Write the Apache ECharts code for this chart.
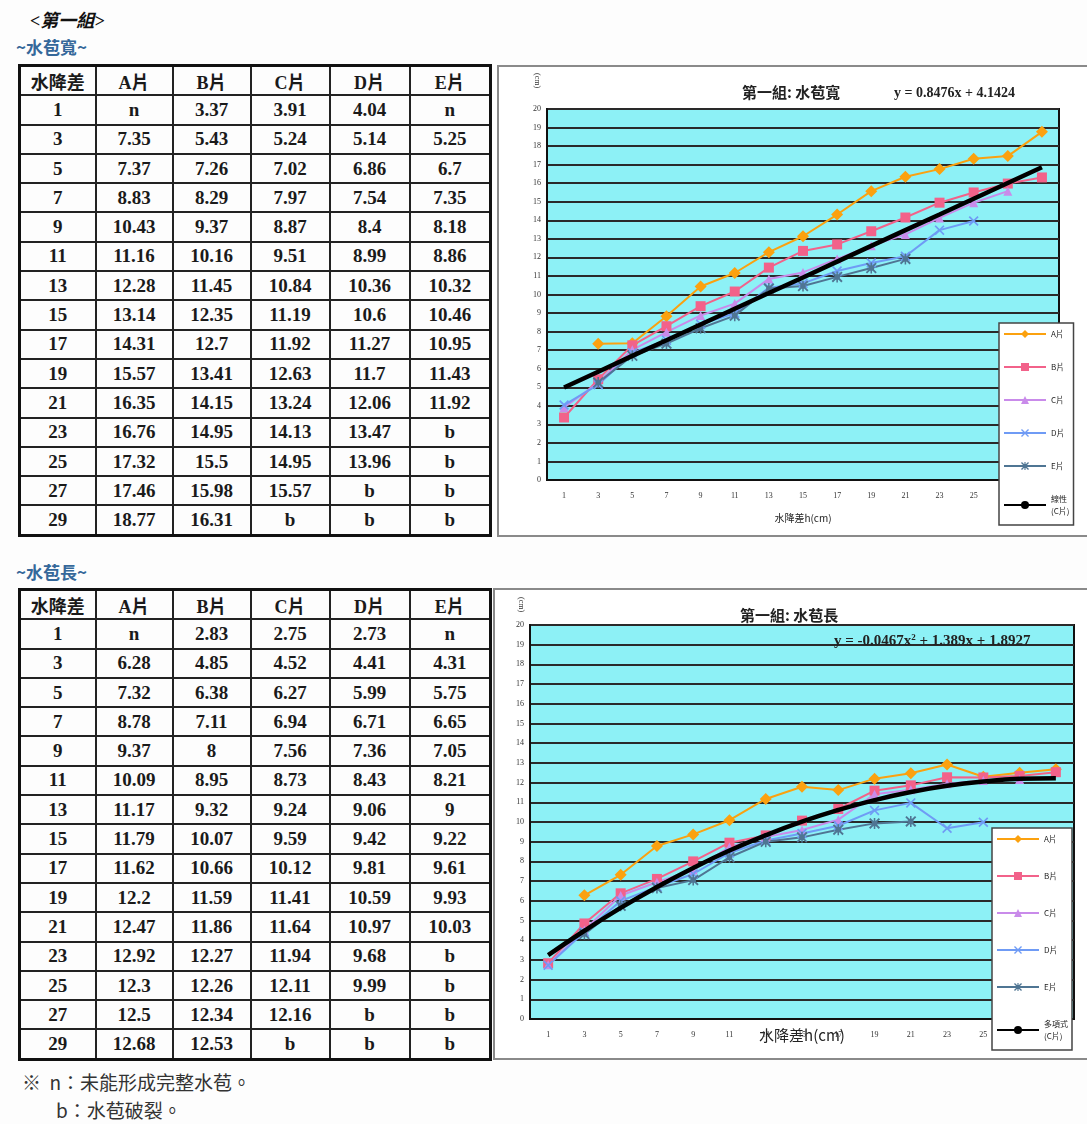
<!DOCTYPE html>
<html>
<head>
<meta charset="utf-8">
<script src="https://cdn.jsdelivr.net/npm/echarts@6/dist/echarts.min.js"></script>
<style>
  html, body { margin: 0; padding: 0; background: #fdfdfd; }
  body { width: 1087px; height: 1124px; position: relative; overflow: hidden; font-family: "Liberation Serif", "Noto Sans CJK TC", serif; }
  .group { position: absolute; left: 30px; top: 6px; font: italic bold 18px "Liberation Serif", "Noto Sans CJK TC"; color: #111; }
  .sub { position: absolute; left: 16px; font: bold 17px "Noto Sans CJK TC"; color: #35689a; }
  table.data { position: absolute; left: 18px; width: 471px; table-layout: fixed; border-collapse: collapse; border: 3px solid #111; }
  table.data td { border: 2px solid #222; height: 27.3px; padding: 0; text-align: center;
    font: bold 19px "Liberation Serif", "Noto Sans CJK TC"; color: #1a1a1a; }
  table.data tr.head td { font-size: 18px; }
  .chart { position: absolute; border: 2px solid #8a8a8a; background: #fff; box-sizing: border-box; }
  .note { position: absolute; font: 19px "Noto Sans CJK TC"; color: #333; }
</style>
</head>
<body>
<div class="group">&lt;第一組&gt;</div>
<div class="sub" style="top:34px">~水苞寬~</div>
<table class="data" id="tblWide" style="top:64px"></table>
<div class="chart" id="chartWide" style="left:497px;top:65px;width:592px;height:472px"></div>

<div class="sub" style="top:559px">~水苞長~</div>
<table class="data" id="tblLong" style="top:588px"></table>
<div class="chart" id="chartLong" style="left:493px;top:588px;width:596px;height:472px"></div>

<div class="note" style="left:22px;top:1068px">※&nbsp; n：未能形成完整水苞。</div>
<div class="note" style="left:56px;top:1096px">b：水苞破裂。</div>

<script>
// 水降差 (cm)
const drops = ['1','3','5','7','9','11','13','15','17','19','21','23','25','27','29'];
const pieces = ['A片','B片','C片','D片','E片'];

// 水苞寬
const wideA = ['n','7.35','7.37','8.83','10.43','11.16','12.28','13.14','14.31','15.57','16.35','16.76','17.32','17.46','18.77'];
const wideB = ['3.37','5.43','7.26','8.29','9.37','10.16','11.45','12.35','12.7','13.41','14.15','14.95','15.5','15.98','16.31'];
const wideC = ['3.91','5.24','7.02','7.97','8.87','9.51','10.84','11.19','11.92','12.63','13.24','14.13','14.95','15.57','b'];
const wideD = ['4.04','5.14','6.86','7.54','8.4','8.99','10.36','10.6','11.27','11.7','12.06','13.47','13.96','b','b'];
const wideE = ['n','5.25','6.7','7.35','8.18','8.86','10.32','10.46','10.95','11.43','11.92','b','b','b','b'];
// 線性趨勢線 (C片)
const wideTrend = [4.99,5.84,6.69,7.53,8.38,9.23,10.08,10.92,11.77,12.62,13.47,14.31,15.16,16.01,16.86];

// 水苞長
const longA = ['n','6.28','7.32','8.78','9.37','10.09','11.17','11.79','11.62','12.2','12.47','12.92','12.3','12.5','12.68'];
const longB = ['2.83','4.85','6.38','7.11','8','8.95','9.32','10.07','10.66','11.59','11.86','12.27','12.26','12.34','12.53'];
const longC = ['2.75','4.52','6.27','6.94','7.56','8.73','9.24','9.59','10.12','11.41','11.64','11.94','12.11','12.16','b'];
const longD = ['2.73','4.41','5.99','6.71','7.36','8.43','9.06','9.42','9.81','10.59','10.97','9.68','9.99','b','b'];
const longE = ['n','4.31','5.75','6.65','7.05','8.21','9','9.22','9.61','9.93','10.03','b','b','b','b'];
// 多項式趨勢線 (C片)
const longTrend = [3.24,4.48,5.64,6.70,7.67,8.55,9.33,10.02,10.61,11.11,11.52,11.84,12.06,12.19,12.22];

const yTicks = ['0','1','2','3','4','5','6','7','8','9','10','11','12','13','14','15','16','17','18','19','20'];

const colWidths = [76, 77, 78, 79, 80, 81];

function fillTable(id, cols){
  let html = '<colgroup>' + colWidths.map(w => `<col style="width:${w}px">`).join('') + '</colgroup>';
  html += '<tr class="head">';
  ['水降差'].concat(pieces).forEach(h => { html += `<td>${h}</td>`; });
  html += '</tr>';
  drops.forEach((d, r) => {
    html += `<tr><td>${d}</td>`;
    cols.forEach(c => { html += `<td>${c[r]}</td>`; });
    html += '</tr>';
  });
  document.getElementById(id).innerHTML = html;
}
fillTable('tblWide', [wideA, wideB, wideC, wideD, wideE]);
fillTable('tblLong', [longA, longB, longC, longD, longE]);

const toNum = arr => arr.map(v => isNaN(parseFloat(v)) ? null : parseFloat(v));

const Colors = {
  A: '#FBA10F', B: '#F2628A', C: '#C98BEA', D: '#6F9BF5', E: '#4F7593'
};
const xPath = 'path://M0,1.2L1.2,0L5,3.8L8.8,0L10,1.2L6.2,5L10,8.8L8.8,10L5,6.2L1.2,10L0,8.8L3.8,5Z';
const starPath = 'path://M0,1.2L1.2,0L10,8.8L8.8,10Z M8.8,0L10,1.2L1.2,10L0,8.8Z M4.3,0H5.7V10H4.3Z M2.5,2.5H7.5V7.5H2.5Z';

function pieceSeries(cols){
  const defs = [
    { k: 'A', symbol: 'diamond', size: 12 },
    { k: 'B', symbol: 'rect', size: 10 },
    { k: 'C', symbol: 'triangle', size: 9 },
    { k: 'D', symbol: xPath, size: 10 },
    { k: 'E', symbol: starPath, size: 11 }
  ];
  return defs.map((d, i) => ({
    name: pieces[i],
    type: 'line',
    data: toNum(cols[i]),
    symbol: d.symbol,
    symbolSize: d.size,
    showAllSymbol: true,
    connectNulls: false,
    itemStyle: { color: Colors[d.k] },
    lineStyle: { color: Colors[d.k], width: 2 },
    z: 3
  }));
}

function makeChart(domId, cfg){
  const chart = echarts.init(document.getElementById(domId));
  const series = pieceSeries(cfg.cols);
  series.push({
    name: cfg.trendName,
    type: 'line',
    data: cfg.trend,
    smooth: cfg.smooth,
    symbol: 'none',
    lineStyle: { color: '#000', width: 4.5 },
    itemStyle: { color: '#000' },
    z: 4
  });
  chart.setOption({
    animation: false,
    backgroundColor: '#fff',
    color: [Colors.A, Colors.B, Colors.C, Colors.D, Colors.E, '#000'],
    grid: cfg.grid,
    title: cfg.titles,
    graphic: cfg.graphic,
    legend: {
      orient: 'vertical',
      left: cfg.legend.left,
      top: cfg.legend.top,
      height: cfg.legend.height,
      itemWidth: 42,
      itemHeight: 10,
      itemGap: cfg.legend.gap,
      padding: cfg.legend.padding,
      backgroundColor: '#fff',
      borderColor: '#444',
      borderWidth: 1.5,
      data: pieces.concat([cfg.trendName]),
      formatter: n => n === cfg.trendName ? n + '\n(C片)' : n,
      textStyle: { fontSize: 8, color: '#222', fontFamily: 'Noto Sans CJK TC', lineHeight: 12 }
    },
    xAxis: {
      type: 'category',
      data: drops,
      boundaryGap: true,
      name: cfg.xName,
      nameLocation: 'middle',
      nameGap: cfg.xNameGap,
      nameMoveOverlap: false,
      nameTextStyle: { fontSize: cfg.xNameSize, color: '#222', fontFamily: 'Noto Sans CJK TC' },
      axisLine: { lineStyle: { color: '#111', width: 2 } },
      axisTick: { show: false },
      axisLabel: { fontSize: 8, color: '#333', fontFamily: 'Liberation Serif', margin: 12 }
    },
    yAxis: {
      type: 'value',
      min: 0,
      max: 20,
      interval: 1,
      axisLine: { show: true, lineStyle: { color: '#111', width: 2 } },
      axisTick: { show: false },
      axisLabel: { fontSize: 8, color: '#333', fontFamily: 'Liberation Serif', margin: 6,
        formatter: v => yTicks[v] },
      splitLine: { lineStyle: { color: '#2a2a2a', width: 2 } }
    },
    series: series
  });
  return chart;
}

// cyan plot background
function plotBg(g){
  return { type: 'rect', shape: { x: g.left, y: g.top, width: g.width, height: g.height },
    style: { fill: '#8DF1F6', stroke: '#111', lineWidth: 2 }, z: -1, silent: true };
}

const gridWide = { left: 48, top: 42, width: 512, height: 371 };
makeChart('chartWide', {
  cols: [wideA, wideB, wideC, wideD, wideE],
  trend: wideTrend,
  trendName: '線性',
  smooth: false,
  grid: gridWide,
  xName: '水降差h(cm)', xNameGap: 33, xNameSize: 10,
  titles: [
    { text: '第一組: 水苞寬', left: 238, top: 13,
      textStyle: { fontSize: 15, fontWeight: 'bold', color: '#222', fontFamily: 'Noto Sans CJK TC' } },
    { text: 'y = 0.8476x + 4.1424', left: 390, top: 14,
      textStyle: { fontSize: 14, fontWeight: 'bold', color: '#222', fontFamily: 'Liberation Serif' } }
  ],
  graphic: [
    plotBg(gridWide),
    { type: 'text', x: 42, y: 6, rotation: -Math.PI / 2, style: { text: '(cm)', fontSize: 8, fill: '#333', fontFamily: 'Liberation Serif' } }
  ],
  legend: { left: 500, top: 256, height: 200, gap: 21, padding: [5, 4, 8, 4] }
});

const gridLong = { left: 35, top: 35, width: 544, height: 394 };
makeChart('chartLong', {
  cols: [longA, longB, longC, longD, longE],
  trend: longTrend,
  trendName: '多項式',
  smooth: true,
  grid: gridLong,
  xName: '水降差h(cm)', xNameGap: 9, xNameSize: 15,
  titles: [
    { text: '第一組: 水苞長', left: 240, top: 13,
      textStyle: { fontSize: 15, fontWeight: 'bold', color: '#222', fontFamily: 'Noto Sans CJK TC' } },
    { text: 'y = -0.0467x{s|2} + 1.389x + 1.8927', left: 334, top: 38,
      textStyle: { fontSize: 15, fontWeight: 'bold', color: '#222', fontFamily: 'Liberation Serif',
        rich: { s: { fontSize: 9, fontWeight: 'bold', verticalAlign: 'top', padding: [0, 0, 8, 0], fontFamily: 'Liberation Serif' } } } }
  ],
  graphic: [
    plotBg(gridLong),
    { type: 'text', x: 30, y: 7, rotation: -Math.PI / 2, style: { text: '(cm)', fontSize: 8, fill: '#333', fontFamily: 'Liberation Serif' } }
  ],
  legend: { left: 497, top: 238, height: 232, gap: 25, padding: [5, 4, 8, 4] }
});
</script>
</body>
</html>
